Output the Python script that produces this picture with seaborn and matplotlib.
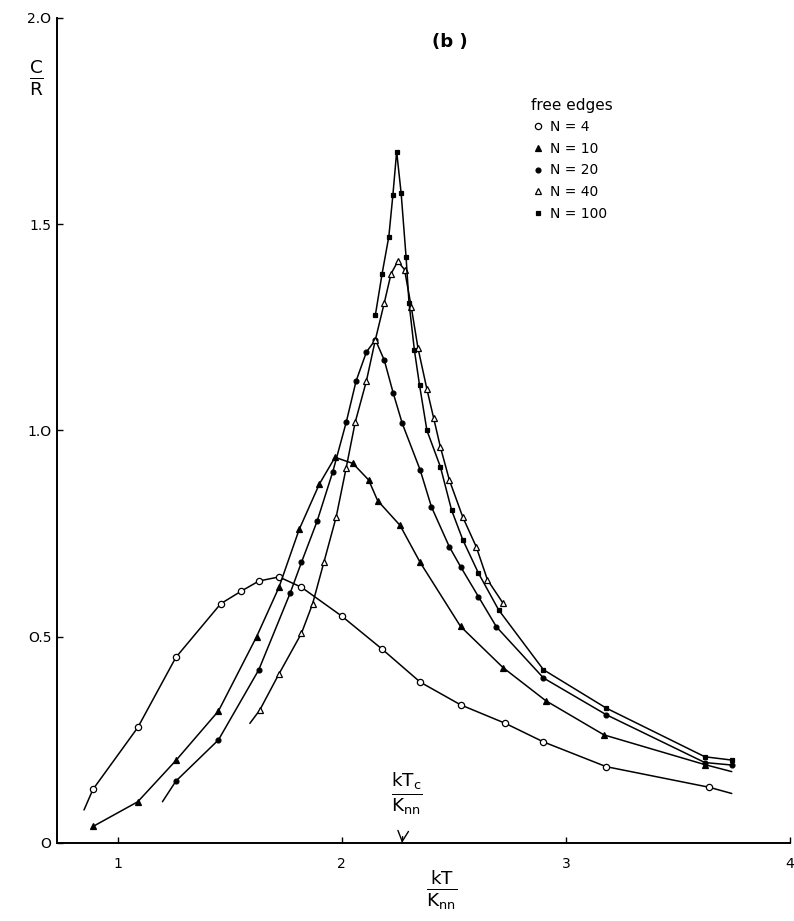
import numpy as np
import pandas as pd
import matplotlib
matplotlib.use("Agg")
import matplotlib.pyplot as plt
import seaborn as sns
from matplotlib.lines import Line2D

# specific heat C/R vs kT/K_nn, free edges
T4 = [0.85, 0.89, 1.09, 1.26, 1.46, 1.55, 1.63, 1.72, 1.82, 2.00, 2.18, 2.35, 2.53, 2.73, 2.90, 3.18, 3.64, 3.74]
C4 = [0.08, 0.13, 0.28, 0.45, 0.58, 0.61, 0.635, 0.645, 0.62, 0.55, 0.47, 0.39, 0.335, 0.29, 0.245, 0.185, 0.135, 0.12]

T10 = [0.89, 1.09, 1.26, 1.45, 1.62, 1.72, 1.81, 1.90, 1.97, 2.05, 2.12, 2.16, 2.26, 2.35, 2.53, 2.72, 2.91, 3.17, 3.62, 3.74]
C10 = [0.04, 0.10, 0.20, 0.32, 0.50, 0.62, 0.76, 0.87, 0.935, 0.92, 0.88, 0.83, 0.77, 0.68, 0.525, 0.425, 0.345, 0.262, 0.19, 0.173]

T20 = [1.20, 1.26, 1.45, 1.63, 1.77, 1.82, 1.89, 1.96, 2.02, 2.064, 2.11, 2.15, 2.19, 2.23, 2.27, 2.35, 2.40, 2.48, 2.53, 2.61, 2.69, 2.90, 3.18, 3.62, 3.74]
C20 = [0.10, 0.15, 0.25, 0.42, 0.606, 0.68, 0.78, 0.90, 1.02, 1.12, 1.19, 1.22, 1.17, 1.09, 1.017, 0.904, 0.815, 0.718, 0.67, 0.597, 0.524, 0.40, 0.311, 0.195, 0.189]

T40 = [1.59, 1.634, 1.72, 1.82, 1.87, 1.92, 1.975, 2.02, 2.06, 2.11, 2.15, 2.19, 2.22, 2.25, 2.28, 2.31, 2.34, 2.38, 2.41, 2.44, 2.48, 2.54, 2.60, 2.65, 2.72]
C40 = [0.29, 0.322, 0.41, 0.508, 0.58, 0.68, 0.79, 0.91, 1.02, 1.12, 1.22, 1.31, 1.38, 1.41, 1.39, 1.30, 1.20, 1.10, 1.03, 0.96, 0.88, 0.79, 0.718, 0.638, 0.581]

T100 = [2.15, 2.18, 2.21, 2.228, 2.245, 2.265, 2.287, 2.30, 2.324, 2.347, 2.38, 2.44, 2.49, 2.54, 2.61, 2.70, 2.90, 3.18, 3.62, 3.74]
C100 = [1.28, 1.38, 1.47, 1.57, 1.676, 1.575, 1.42, 1.31, 1.195, 1.11, 1.0, 0.912, 0.807, 0.735, 0.654, 0.565, 0.42, 0.327, 0.209, 0.201]

labels = ["N = 4", "N = 10", "N = 20", "N = 40", "N = 100"]
Tc = 2.269

sns.set_style("ticks")
plt.rcParams['font.family'] = ['DejaVu Sans']
plt.rcParams['mathtext.fontset'] = 'dejavusans'
plt.rcParams['mathtext.default'] = 'regular'
plt.rcParams['text.color'] = 'black'
plt.rcParams['xtick.color'] = 'black'
plt.rcParams['ytick.color'] = 'black'

fig = plt.figure(figsize=(7.94, 9.21), dpi=100)
ax = fig.add_axes([0.0718, 0.0847, 0.9232, 0.8958])

series = [
    (T4, C4, dict(marker='o', mfc='white', ms=4.5), slice(1, -1)),
    (T10, C10, dict(marker='^', mfc='black', ms=4.5), slice(0, -1)),
    (T20, C20, dict(marker='o', mfc='black', ms=3.5), slice(1, None)),
    (T40, C40, dict(marker='^', mfc='white', ms=5), slice(1, None)),
    (T100, C100, dict(marker='s', mfc='black', ms=3), slice(0, None)),
]

for T, C, mk, every in series:
    df = pd.DataFrame({'T': T, 'C': C})
    sns.lineplot(data=df, x='T', y='C', sort=False, estimator=None, ax=ax,
                 color='black', lw=1.1, mec='black', mew=0.9,
                 markevery=every, legend=False, **mk)

ax.set_xlim(0.7296, 4.0)
ax.set_ylim(0, 2.0)
ax.set_xticks([1, 2, 3, 4])
ax.set_xticklabels(['1', '2', '3', '4'])
ax.set_yticks([0, 0.5, 1.0, 1.5, 2.0])
ax.set_yticklabels(['O', 'O.5', '1.O', '1.5', '2.O'])
ax.tick_params(direction='in', length=4, width=1, labelsize=10, color='black')
ax.tick_params(axis='x', pad=10)
ax.tick_params(axis='y', pad=4)
for s in ['top', 'right']:
    ax.spines[s].set_visible(False)
for s in ['left', 'bottom']:
    ax.spines[s].set_linewidth(1.4)
    ax.spines[s].set_color('black')
ax.set_xlabel('')
ax.set_ylabel('')

# axis labels as fractions
fig.text(36 / 794, 1 - 78 / 921, r'$\frac{C}{R}$', fontsize=19, ha='center', va='center')
fig.text(442 / 794, 1 - 890 / 921, r'$\frac{kT}{K_{nn}}$', fontsize=19, ha='center', va='center')

# Tc marker
ax.annotate(r'$\frac{kT_c}{K_{nn}}$', xy=(Tc, 0), xytext=(2.29, 0.12),
            fontsize=19, ha='center', va='center',
            arrowprops=dict(arrowstyle='->', color='black', lw=1, shrinkA=12, shrinkB=0))

fig.text(450 / 794, 1 - 42 / 921, '(b )', fontsize=13, fontweight='semibold', ha='center', va='center')

handles = [Line2D([], [], color='black', ls='none', mec='black', mew=0.9, **mk)
           for _, _, mk, _ in series]
leg = ax.legend(handles, labels, title='free edges', frameon=False, fontsize=10,
                title_fontsize=11, loc='upper left', bbox_to_anchor=(525 / 794, 1 - 92 / 921),
                bbox_transform=fig.transFigure, handletextpad=0.4, labelspacing=0.55,
                handlelength=1.0, borderaxespad=0)
leg._legend_box.align = 'left'

fig.savefig('out.png', dpi=100)
